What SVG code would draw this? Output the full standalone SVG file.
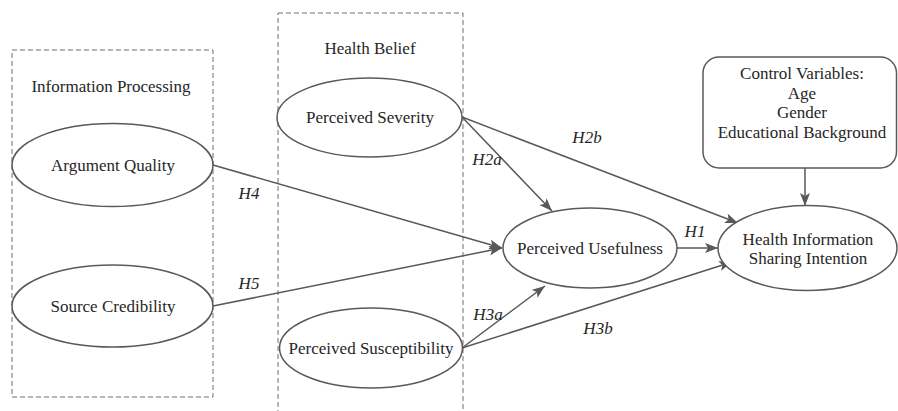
<svg xmlns="http://www.w3.org/2000/svg" width="898" height="411" viewBox="0 0 898 411" font-family="'Liberation Serif', 'Times New Roman', serif">
<style>
.grp{fill:none;stroke:#6e6e6e;stroke-width:1;stroke-dasharray:5,3}
.node{fill:#fff;stroke:#595959;stroke-width:1.5}
text{font-family:'Liberation Serif','Times New Roman',serif;font-size:17px;fill:#262626;text-anchor:middle}
.lbl{font-style:italic}
.edge{stroke:#595959;stroke-width:1.5;fill:none;marker-end:url(#arr)}
</style>
<defs>
<marker id="arr" markerUnits="userSpaceOnUse" markerWidth="14" markerHeight="11" refX="13" refY="5" orient="auto">
<path d="M0,0 L13,5 L0,10 L3,5 z" fill="#595959"/>
</marker>
</defs>
<rect width="898" height="411" fill="#fff"/>
<g id="grp-info">
<rect class="grp" x="12" y="50" width="201" height="347"/>
<text x="111" y="92">Information Processing</text>
</g>
<g id="grp-health">
<rect class="grp" x="278" y="13" width="185" height="420"/>
<text x="370" y="54">Health Belief</text>
</g>
<g id="connectors">
<line class="edge" x1="213" y1="165" x2="502" y2="248"/>
<line class="edge" x1="213" y1="306" x2="502" y2="248"/>
<line class="edge" x1="462" y1="117" x2="552" y2="211"/>
<line class="edge" x1="462" y1="117" x2="738" y2="223"/>
<line class="edge" x1="462" y1="348" x2="545" y2="286"/>
<line class="edge" x1="462" y1="348" x2="732" y2="262"/>
<line class="edge" x1="677" y1="248" x2="718" y2="248"/>
<line class="edge" x1="805" y1="168" x2="805" y2="206"/>
<text class="lbl" x="249" y="199">H4</text>
<text class="lbl" x="249" y="289">H5</text>
<text class="lbl" x="487" y="165">H2a</text>
<text class="lbl" x="587" y="143">H2b</text>
<text class="lbl" x="488" y="320">H3a</text>
<text class="lbl" x="598" y="334">H3b</text>
<text class="lbl" x="695" y="237">H1</text>
</g>
<g id="argument-quality">
<ellipse class="node" cx="112.5" cy="165" rx="100.5" ry="41.5"/>
<text x="113" y="171">Argument Quality</text>
</g>
<g id="source-credibility">
<ellipse class="node" cx="112.5" cy="306" rx="100.5" ry="41"/>
<text x="113" y="312">Source Credibility</text>
</g>
<g id="perceived-severity">
<ellipse class="node" cx="369.5" cy="117.5" rx="92.5" ry="39.5"/>
<text x="370" y="123">Perceived Severity</text>
</g>
<g id="perceived-susceptibility">
<ellipse class="node" cx="371" cy="348" rx="91.5" ry="40"/>
<text x="371" y="354">Perceived Susceptibility</text>
</g>
<g id="perceived-usefulness">
<ellipse class="node" cx="590" cy="248" rx="87" ry="40"/>
<text x="590" y="254">Perceived Usefulness</text>
</g>
<g id="sharing-intention">
<ellipse class="node" cx="807.5" cy="248" rx="89.5" ry="42.5"/>
<text x="808" y="245">Health Information</text>
<text x="808" y="264">Sharing Intention</text>
</g>
<g id="control-variables">
<rect class="node" x="703" y="57" width="193.5" height="111" rx="16" ry="16"/>
<text x="802" y="79">Control Variables:</text>
<text x="802" y="99">Age</text>
<text x="802" y="118">Gender</text>
<text x="802" y="138">Educational Background</text>
</g>
</svg>
